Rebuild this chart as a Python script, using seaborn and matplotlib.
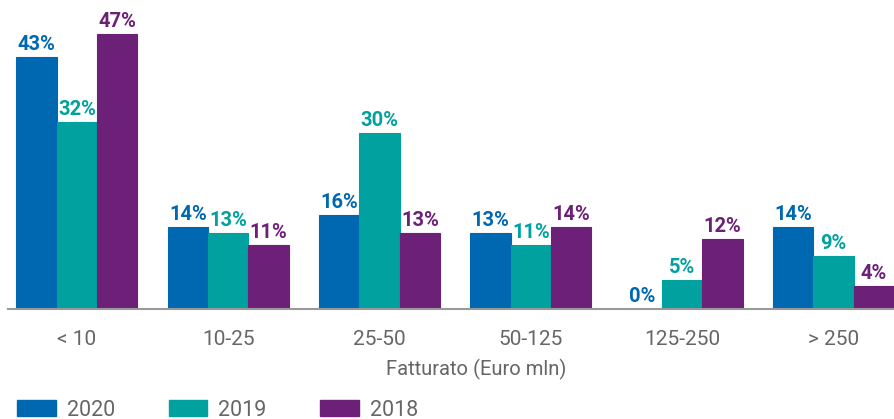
import matplotlib
matplotlib.use("Agg")
import matplotlib.pyplot as plt
import seaborn as sns
import pandas as pd
from matplotlib.patches import Patch

categories = ["< 10", "10-25", "25-50", "50-125", "125-250", "> 250"]
years = ["2020", "2019", "2018"]
values_2020 = [43, 14, 16, 13, 0, 14]
values_2019 = [32, 13, 30, 11, 5, 9]
values_2018 = [47, 11, 13, 14, 12, 4]
colors = ["#0067b1", "#00a19f", "#6d2077"]
xlabel = "Fatturato (Euro mln)"

rows = []
for y, vals in zip(years, [values_2020, values_2019, values_2018]):
    for c, v in zip(categories, vals):
        rows.append({"cat": c, "year": y, "val": v})
df = pd.DataFrame(rows)

sns.set_theme(style="white")
plt.rcParams["font.family"] = ["Roboto", "DejaVu Sans"]

fig = plt.figure(figsize=(8.94, 4.19), dpi=100)
ax = fig.add_axes([8/894, 110/419, 886/894, 1 - 110/419 - 19/419])
sns.barplot(data=df, x="cat", y="val", hue="year", hue_order=years,
            palette=colors, width=0.8, ax=ax, legend=False, saturation=1,
            errorbar=None)

for cont, col in zip(ax.containers, colors):
    for p in cont.patches:
        p.set_edgecolor(col)
        p.set_linewidth(0.8)
    ax.bar_label(cont, labels=[f"{int(v)}%" for v in cont.datavalues],
                 color=col, fontsize=14.5, fontweight="bold", padding=2)

ax.set_ylim(0, 49.5)
ax.set_xlim(-0.455, 5.4)
ax.set_ylabel("")
ax.set_yticks([])
ax.set_xlabel(xlabel, fontsize=14.5, color="#666666")
ax.xaxis.set_label_coords(0.528, -60/290, transform=ax.transAxes)
ax.xaxis.label.set_verticalalignment("center")
ax.tick_params(axis="x", length=0, pad=15, labelsize=15, labelcolor="#666666")
for s in ["top", "right", "left"]:
    ax.spines[s].set_visible(False)
ax.spines["bottom"].set_color("#999999")
ax.spines["bottom"].set_linewidth(1.5)

handles = [Patch(facecolor=c, edgecolor=c) for c in colors]
fig.legend(handles, years, loc="center left",
           bbox_to_anchor=(17/894, 1 - 410/419), ncol=3, frameon=False,
           fontsize=15.5, handlelength=1.8, handleheight=0.7,
           handletextpad=0.5, columnspacing=2.5, borderpad=0,
           borderaxespad=0, labelcolor="#666666")

fig.savefig("out.png", dpi=100)
